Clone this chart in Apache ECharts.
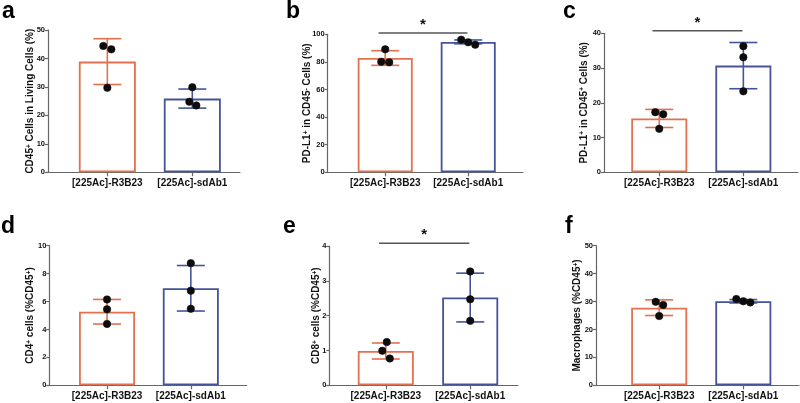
<!DOCTYPE html>
<html>
<head>
<meta charset="utf-8">
<script src="https://cdn.jsdelivr.net/npm/echarts@6/dist/echarts.min.js"></script>
<style>
html,body{margin:0;padding:0;background:#fff;}
#chart{width:800px;height:403px;}
</style>
</head>
<body>
<div id="chart"></div>
<script>
// ---------- data ----------
const categories = ['[225Ac]-R3B23', '[225Ac]-sdAb1'];

const meanA = [38.9, 25.9];
const sdA = [8.05, 3.35];
const ptsA = [[44.4, 43.2, 29.7], [29.9, 24.8, 23.5]];

const meanB = [82.8, 94.5];
const sdB = [5.3, 1.4];
const ptsB = [[89.1, 80.1, 79.7], [96.1, 94.2, 92.5]];

const meanC = [15.5, 30.7];
const sdC = [2.6, 6.65];
const ptsC = [[17.3, 16.7, 12.5], [36.3, 33.1, 23.3]];

const meanD = [5.27, 6.95];
const sdD = [0.88, 1.63];
const ptsD = [[6.15, 5.44, 4.4], [8.75, 6.78, 5.48]];

const meanE = [0.985, 2.52];
const sdE = [0.23, 0.7];
const ptsE = [[1.24, 0.99, 0.77], [3.27, 2.47, 1.85]];

const meanF = [27.8, 30.1];
const sdF = [2.8, 0.6];
const ptsF = [[29.9, 28.8, 24.8], [30.9, 30.1, 29.7]];

const yTicksA = [0, 10, 20, 30, 40, 50];
const yTicksB = [0, 20, 40, 60, 80, 100];
const yTicksC = [0, 10, 20, 30, 40];
const yTicksD = [0, 2, 4, 6, 8, 10];
const yTicksE = [0, 1, 2, 3, 4];
const yTicksF = [0, 10, 20, 30, 40, 50];

// ---------- styling / layout ----------
const COLORS = ['#E2714F', '#44549A'];
const AXIS = '#666';
const FONT = 'Liberation Sans, Arial, sans-serif';

// pixel jitter of the dots (visual layout only)
const jitterA = [[-4, 4, 0], [0, -3, 4]];
const jitterB = [[0, -4, 4], [-7, 0, 7]];
const jitterC = [[-4, 4, 0], [0, 0, 0]];
const jitterD = [[0, 0, 0], [0, 0, 0]];
const jitterE = [[1, -3.5, 4], [0, 0, 0]];
const jitterF = [[-3.5, 4, 0], [-7, 0, 7]];

const panels = [
  {letter:'a', lx:2, ly:12, grid:{left:48, top:30, width:192, height:142.3}, xr:[-0.698, 1.561], bw:57,
   mean:meanA, sd:sdA, pts:ptsA, jit:jitterA, ticks:yTicksA, gap:12.5,
   name:'CD45{sup|+} Cells in Living Cells (%)', sig:null},
  {letter:'b', lx:286, ly:12, grid:{left:327.7, top:34.3, width:195.3, height:138}, xr:[-0.693, 1.66], bw:55,
   mean:meanB, sd:sdB, pts:ptsB, jit:jitterB, ticks:yTicksB, gap:15,
   name:'PD-L1{sup|+} in CD45{sup|-} Cells (%)', sig:{y:100.9}},
  {letter:'c', lx:563, ly:12, grid:{left:604, top:33.3, width:194, height:139}, xr:[-0.657, 1.65], bw:56,
   mean:meanC, sd:sdC, pts:ptsC, jit:jitterC, ticks:yTicksC, gap:15,
   name:'PD-L1{sup|+} in CD45{sup|+} Cells (%)', sig:{y:40.75}},
  {letter:'d', lx:1, ly:227, grid:{left:49.3, top:245.7, width:197.4, height:139.6}, xr:[-0.689, 1.667], bw:56,
   mean:meanD, sd:sdD, pts:ptsD, jit:jitterD, ticks:yTicksD, gap:14,
   name:'CD4{sup|+} cells (%CD45{sup|+})', sig:null},
  {letter:'e', lx:283, ly:227, grid:{left:329.3, top:246, width:188.7, height:139.3}, xr:[-0.669, 1.566], bw:56,
   mean:meanE, sd:sdE, pts:ptsE, jit:jitterE, ticks:yTicksE, gap:8,
   name:'CD8{sup|+} cells (%CD45{sup|+})', sig:{y:4.08}},
  {letter:'f', lx:565, ly:227, grid:{left:596, top:245.7, width:203, height:139.6}, xr:[-0.751, 1.662], bw:56,
   mean:meanF, sd:sdF, pts:ptsF, jit:jitterF, ticks:yTicksF, gap:13.5,
   name:'Macrophages (%CD45{sup|+})', sig:null}
];

const grid = [], xAxis = [], yAxis = [], series = [], graphic = [];

panels.forEach((p, i) => {
  grid.push(Object.assign({containLabel:false}, p.grid));
  xAxis.push({
    type:'value', gridIndex:i, min:p.xr[0], max:p.xr[1],
    axisLine:{show:true, onZero:false, lineStyle:{color:AXIS, width:1.2}},
    axisTick:{show:true, customValues:[0,1], length:4, lineStyle:{color:AXIS, width:1.2}},
    axisLabel:{show:true, customValues:[0,1], margin:6,
      formatter:v => categories[Math.round(v)] || '',
      color:'#111', fontWeight:'bold', fontSize:10, fontFamily:FONT},
    splitLine:{show:false}
  });
  const t = p.ticks;
  yAxis.push({
    type:'value', gridIndex:i, min:t[0], max:t[t.length-1], interval:t[1]-t[0],
    name:p.name, nameLocation:'middle', nameGap:p.gap, nameRotate:90, nameMoveOverlap:false,
    nameTextStyle:{color:'#111', fontWeight:'bold', fontSize:10, fontFamily:FONT,
      rich:{sup:{fontSize:6.5, fontWeight:'bold', fontFamily:FONT, color:'#111', verticalAlign:'top', lineHeight:8}}},
    axisLine:{show:true, onZero:false, lineStyle:{color:AXIS, width:1.2}},
    axisTick:{show:true, length:3, lineStyle:{color:AXIS, width:1.2}},
    axisLabel:{color:'#111', fontWeight:'bold', fontSize:7.5, fontFamily:FONT, margin:3},
    splitLine:{show:false}
  });
  // bars
  series.push({
    type:'bar', xAxisIndex:i, yAxisIndex:i, barWidth:p.bw, z:2,
    data:p.mean.map((m, k) => ({value:[k, m],
      itemStyle:{color:'#fff', borderColor:COLORS[k], borderWidth:1.8}})),
    silent:true
  });
  // error bars
  series.push({
    type:'custom', xAxisIndex:i, yAxisIndex:i, z:3, silent:true,
    dimensions:['x','mean','sd'], encode:{x:0, y:1},
    data:p.mean.map((m, k) => [k, m, p.sd[k]]),
    renderItem:(params, api) => {
      const x = api.value(0), m = api.value(1), s = api.value(2);
      const top = api.coord([x, m + s]), bot = api.coord([x, m - s]);
      const hw = 14, c = COLORS[params.dataIndex];
      const st = {stroke:c, lineWidth:1.6};
      return {type:'group', children:[
        {type:'line', shape:{x1:top[0], y1:top[1], x2:bot[0], y2:bot[1]}, style:st},
        {type:'line', shape:{x1:top[0]-hw, y1:top[1], x2:top[0]+hw, y2:top[1]}, style:st},
        {type:'line', shape:{x1:bot[0]-hw, y1:bot[1], x2:bot[0]+hw, y2:bot[1]}, style:st}
      ]};
    }
  });
  // individual points
  const pd = [];
  p.pts.forEach((arr, k) => arr.forEach((v, j) => {
    pd.push({value:[k, v], symbolOffset:[p.jit[k][j], 0]});
  }));
  series.push({
    type:'scatter', xAxisIndex:i, yAxisIndex:i, z:4, silent:true,
    symbol:'circle', symbolSize:7.5,
    itemStyle:{color:'#0d0d0d', opacity:1, borderColor:'#0d0d0d', borderWidth:0.5},
    data:pd
  });
  // significance bar
  if (p.sig) {
    series.push({
      type:'custom', xAxisIndex:i, yAxisIndex:i, z:5, silent:true, clip:false,
      data:[[0, p.sig.y]],
      renderItem:(params, api) => {
        const y = api.value(1);
        const a = api.coord([-0.08, y]), b = api.coord([0.99, y]);
        return {type:'group', children:[
          {type:'line', shape:{x1:a[0], y1:a[1], x2:b[0], y2:b[1]}, style:{stroke:'#555', lineWidth:1.4}},
          {type:'text', x:(a[0]+b[0])/2, y:a[1]-8,
           style:{text:'*', font:'bold 15px ' + FONT, fill:'#111', align:'center', verticalAlign:'middle'}}
        ]};
      }
    });
  }
  graphic.push({type:'text', x:p.lx, y:p.ly,
    style:{text:p.letter, font:'bold 23px ' + FONT, fill:'#000', verticalAlign:'middle'}});
});

const chart = echarts.init(document.getElementById('chart'), null, {renderer:'canvas'});
chart.setOption({
  animation:false,
  backgroundColor:'#fff',
  grid, xAxis, yAxis, series, graphic
});
</script>
</body>
</html>
